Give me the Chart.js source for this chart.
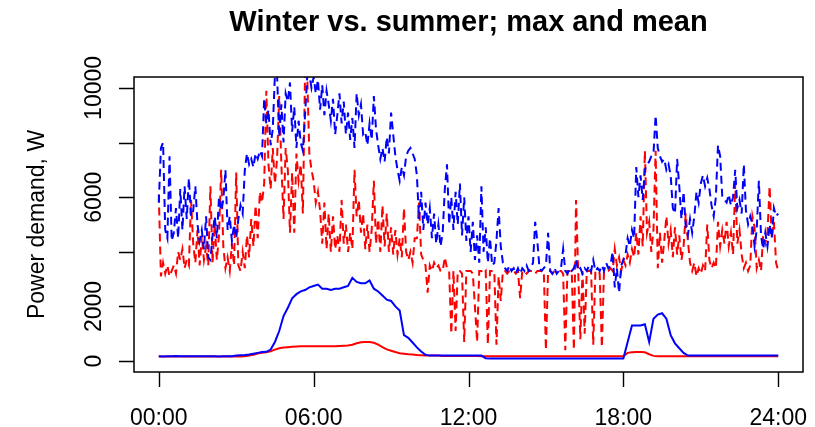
<!DOCTYPE html>
<html>
<head>
<meta charset="utf-8">
<script src="https://cdn.jsdelivr.net/npm/chart.js@4.4.0/dist/chart.umd.min.js"></script>
<style>
html,body{margin:0;padding:0;background:#fff;}
#wrap{position:relative;width:815px;height:427px;}
</style>
</head>
<body>
<div id="wrap"><canvas id="c" width="815" height="427"></canvas></div>
<script>
// Daily power demand profiles from 00:00 to 24:00.
// Maxima are sampled every 5 minutes, means every 10 minutes.
const MAX_STEP_MINUTES = 5;
const MEAN_STEP_MINUTES = 10;

// one row per hour
const winterMax = [
  5800, 7800, 8000, 4800, 4500, 7500, 4400, 4700, 5600, 4500, 6300, 4800,
  6400, 5200, 6700, 5300, 5500, 6400, 5000, 4400, 4800, 4100, 5300, 3800,
  3700, 4600, 5300, 4500, 6000, 5500, 5900, 7000, 4800, 5300, 4400, 5000,
  4500, 5200, 5700, 5400, 7000, 7600, 7200, 7400, 7100, 7600, 7400, 7700,
  7500, 9600, 8700, 9200, 7900, 8500, 10500, 10500, 8200, 9400, 8000, 9800,
  9500, 10200, 8400, 9300, 7800, 8800, 8000, 7700, 9000, 10400, 10500, 10000,
  10400, 9800, 10300, 9200, 10100, 9000, 9900, 9400, 8800, 9600, 8300, 9000,
  9800, 8700, 9500, 8300, 9100, 8100, 8900, 7800, 9800, 9000, 9400, 8300,
  8400, 7900, 8700, 8100, 9700, 8500, 7900, 7400, 7800, 7300, 8200, 7600,
  9100, 8300, 7500, 7000, 6600, 7100, 6800, 7500, 7700, 7800, 7600, 7400,
  6800, 5200, 6200, 4800, 5800, 5000, 5600, 4500, 5400, 4300, 5000, 4200,
  4700, 6300, 7200, 5000, 6000, 4800, 6200, 5000, 6500, 4600, 6000, 4400,
  5300, 4000, 5100, 3700, 4600, 3600, 6400, 4000, 4900, 3600, 4500, 3500,
  3600, 4400, 5600, 4200, 3600, 3400, 3300, 3500, 3300, 3400, 3200, 3400,
  3200, 3400, 3300, 3500, 3300, 3400, 3600, 5100, 4400, 3400, 3300, 3400,
  3500, 4700, 3300, 3200, 3400, 3200, 3300, 3400, 4100, 3300, 3200, 3400,
  3300, 3400, 3700, 3300, 3400, 3200, 3400, 3300, 3500, 3300, 3700, 3300,
  3400, 3300, 3500, 3300, 3600, 3400, 3500, 4000, 2700, 3400, 2500, 3500,
  3700, 3900, 4500, 4200, 4800, 4500, 7100, 6000, 6800, 5900, 7000, 7200,
  7300, 7500, 7600, 9000, 7800, 7500, 7300, 7400, 7000, 7200, 6800, 5600,
  5400, 7400, 6400, 5200, 6200, 4900, 4600, 5200, 4700, 5300, 6200, 5800,
  6500, 6800, 6400, 6700, 6300, 5700, 5300, 6000, 7900, 7500, 6000, 5900,
  5800, 6100, 5700, 6000, 7000, 5600, 5900, 5400, 7200, 5500, 5000, 5300,
  5000, 4200, 4800, 6600, 4600, 4100, 4700, 4200, 5000, 4500, 5600, 5300,
  5400
];

const summerMax = [
  6100, 3100, 3600, 3200, 3500, 3100, 3300, 3500, 3200, 4000, 3700, 4100,
  3400, 3700, 3500, 5900, 4300, 3600, 4800, 3500, 4600, 3700, 4200, 3500,
  6400, 3600, 5000, 3700, 4600, 7000, 4200, 3400, 3800, 3300, 4300, 3500,
  6900, 3500, 3300, 4000, 3400, 4600, 3800, 5200, 4200, 5700, 4500, 6200,
  5800, 6500, 9900, 7200, 6300, 7800, 6500, 7400, 9700, 7200, 5200, 7800,
  7000, 4700, 6900, 4700, 7600, 6600, 7200, 5400, 10500, 10500, 7600, 7000,
  6600, 5800, 6200, 5500, 4300, 5800, 4100, 5400, 4000, 5300, 4100, 4600,
  4000, 5900, 4300, 5000, 4000, 4700, 4100, 7000, 5300, 5900, 4700, 5400,
  4100, 5000, 4000, 4800, 6600, 4300, 5200, 4000, 5700, 4200, 5400, 4000,
  4900, 3900, 4800, 3900, 4500, 3800, 5600, 4000, 3700, 4000, 3600, 4500,
  4500, 5800, 3900, 3700, 3500, 2500, 3500, 3300, 3600, 3400, 3500, 3300,
  3300, 3800, 3400, 3300, 1000, 3300, 1100, 3300, 3300, 3200, 700, 3300,
  3300, 3300, 3200, 2000, 700, 3300, 3300, 3200, 3300, 600, 3300, 3300,
  3300, 600, 3100, 2200, 3300, 3300, 3200, 3300, 3300, 3300, 3200, 3300,
  2300, 3300, 3300, 3200, 3300, 3300, 3300, 3200, 3300, 3300, 3300, 3300,
  400, 3300, 3300, 3200, 3300, 3300, 3300, 3300, 3200, 400, 3300, 3300,
  3300, 400, 5900, 3300, 800, 3300, 1000, 3300, 3300, 3300, 600, 3300,
  3300, 3200, 500, 3300, 3300, 3300, 3400, 3300, 4100, 3500, 3800, 3300,
  3700, 3500, 3900, 3600, 4100, 3800, 4700, 3900, 5300, 4200, 7700, 4700,
  5100, 4000, 4800, 7700, 3400, 4700, 3600, 4400, 5300, 4300, 4800, 3800,
  4900, 3900, 4600, 3700, 4200, 5400, 4400, 3600, 3300, 3600, 3100, 3400,
  3200, 3500, 3300, 5000, 3700, 3400, 3600, 3400, 5100, 4200, 4800, 4300,
  5100, 4200, 4700, 3900, 6500, 4300, 4800, 3900, 3400, 3600, 3300, 3500,
  5300, 4900, 3400, 3700, 3300, 4600, 4300, 4700, 6400, 4500, 5100, 3600,
  3300
];

const winterMean = [
  180, 170, 180, 180, 190, 180,
  180, 180, 180, 180, 180, 180,
  180, 180, 170, 180, 180, 180,
  200, 210, 220, 240, 270, 300,
  330, 340, 420, 700, 1100, 1650,
  1950, 2300, 2450, 2550, 2600, 2700,
  2750, 2800, 2650, 2650, 2600, 2650,
  2650, 2700, 2750, 3050, 2900, 2850,
  2850, 2950, 2650, 2550, 2400, 2250,
  2200, 2000, 1850, 950, 850, 680,
  500, 350, 230, 200, 200, 200,
  200, 200, 200, 200, 200, 200,
  200, 200, 200, 200, 100, 90,
  90, 90, 90, 90, 90, 90,
  90, 90, 90, 90, 90, 90,
  90, 90, 90, 90, 90, 90,
  90, 90, 90, 90, 90, 90,
  90, 90, 90, 90, 90, 90,
  90, 700, 1300, 1300, 1300, 1350,
  700, 1550, 1700, 1750, 1550, 950,
  650, 470, 300, 200, 200, 200,
  200, 200, 200, 200, 200, 200,
  200, 200, 200, 200, 200, 200,
  200, 200, 200, 200, 200, 200,
  200
];

const summerMean = [
  170, 170, 170, 170, 170, 170,
  170, 170, 170, 170, 170, 170,
  170, 170, 170, 170, 170, 170,
  170, 170, 180, 200, 230, 280,
  300, 320, 360, 420, 470, 500,
  510, 520, 530, 540, 540, 540,
  540, 540, 540, 540, 540, 540,
  550, 560, 570, 600, 650, 690,
  700, 700, 670, 600, 510, 430,
  380, 330, 290, 270, 250, 240,
  220, 210, 200, 200, 200, 200,
  190, 190, 190, 190, 190, 190,
  190, 190, 190, 180, 180, 180,
  180, 180, 180, 180, 180, 180,
  180, 180, 180, 180, 180, 180,
  180, 180, 180, 180, 180, 180,
  180, 180, 180, 180, 180, 180,
  180, 180, 180, 180, 180, 180,
  180, 300, 320, 330, 330, 320,
  250, 190, 180, 180, 180, 180,
  180, 180, 180, 180, 180, 180,
  180, 180, 180, 180, 180, 180,
  180, 180, 180, 180, 180, 180,
  180, 180, 180, 180, 180, 180,
  180
];

const xTickHours = [0, 6, 12, 18, 24];
const yTickValues = [0, 2000, 4000, 6000, 8000, 10000];
const yTickLabels = ['0', '2000', '', '6000', '', '10000'];
const titleText = 'Winter vs. summer; max and mean';
const yAxisTitle = 'Power demand, W';

const BLUE = '#0000ff';
const RED = '#ff0000';

function toPoints(values, stepMinutes) {
  return values.map((v, i) => ({ x: i * stepMinutes / 60, y: v }));
}

function hourLabel(h) {
  return String(h).padStart(2, '0') + ':00';
}

// Base-graphics style frame: box, outward ticks, rotated y labels, title
const framePlugin = {
  id: 'frame',
  afterDraw(chart) {
    const ctx = chart.ctx;
    const a = chart.chartArea;
    const xs = chart.scales.x;
    const ys = chart.scales.y;
    ctx.save();
    ctx.strokeStyle = '#000';
    ctx.fillStyle = '#000';
    ctx.lineWidth = 1.5;
    ctx.strokeRect(a.left, a.top, a.right - a.left, a.bottom - a.top);

    ctx.lineWidth = 1.4;
    ctx.beginPath();
    xTickHours.forEach(h => {
      const px = Math.round(xs.getPixelForValue(h)) + 0.5;
      ctx.moveTo(px, a.bottom);
      ctx.lineTo(px, a.bottom + 15);
    });
    yTickValues.forEach(v => {
      const py = Math.round(ys.getPixelForValue(v)) + 0.5;
      ctx.moveTo(a.left, py);
      ctx.lineTo(a.left - 15, py);
    });
    ctx.stroke();

    ctx.font = '23px "Liberation Sans", Arial, sans-serif';
    ctx.textAlign = 'center';
    ctx.textBaseline = 'alphabetic';
    xTickHours.forEach(h => {
      ctx.fillText(hourLabel(h), xs.getPixelForValue(h), 425);
    });
    yTickValues.forEach((v, i) => {
      if (!yTickLabels[i]) return;
      ctx.save();
      ctx.translate(101, ys.getPixelForValue(v));
      ctx.rotate(-Math.PI / 2);
      ctx.fillText(yTickLabels[i], 0, 0);
      ctx.restore();
    });

    ctx.save();
    ctx.translate(44, (a.top + a.bottom) / 2);
    ctx.rotate(-Math.PI / 2);
    ctx.fillText(yAxisTitle, 0, 0);
    ctx.restore();

    ctx.font = 'bold 29px "Liberation Sans", Arial, sans-serif';
    ctx.fillText(titleText, (a.left + a.right) / 2, 31);
    ctx.restore();
  }
};

new Chart(document.getElementById('c'), {
  type: 'line',
  data: {
    datasets: [
      { label: 'Winter mean', data: toPoints(winterMean, MEAN_STEP_MINUTES), borderColor: BLUE, borderWidth: 2 },
      { label: 'Summer mean', data: toPoints(summerMean, MEAN_STEP_MINUTES), borderColor: RED, borderWidth: 2 },
      { label: 'Winter max', data: toPoints(winterMax, MAX_STEP_MINUTES), borderColor: BLUE, borderWidth: 2, borderDash: [8, 5] },
      { label: 'Summer max', data: toPoints(summerMax, MAX_STEP_MINUTES), borderColor: RED, borderWidth: 2, borderDash: [8, 5] }
    ]
  },
  options: {
    responsive: false,
    animation: false,
    devicePixelRatio: 1,
    layout: { padding: { left: 134, right: 12, top: 77, bottom: 55 } },
    elements: {
      point: { radius: 0, hoverRadius: 0 },
      line: { tension: 0, fill: false, borderJoinStyle: 'miter' }
    },
    scales: {
      x: { type: 'linear', min: -0.96, max: 24.96, display: false },
      y: { type: 'linear', min: -400, max: 10400, display: false }
    },
    plugins: {
      legend: { display: false },
      tooltip: { enabled: false },
      title: { display: false }
    }
  },
  plugins: [framePlugin]
});
</script>
</body>
</html>
